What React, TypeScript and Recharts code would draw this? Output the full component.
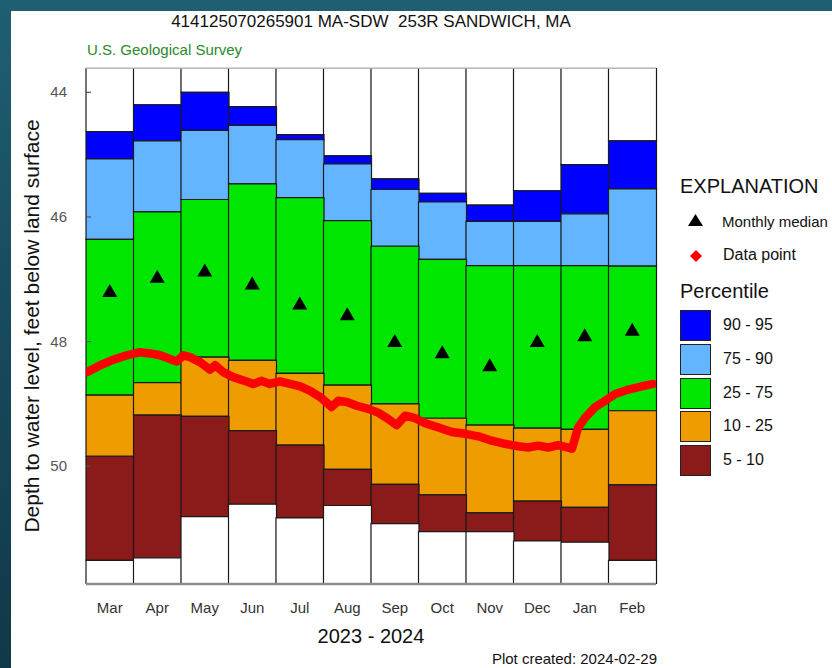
import React from "react";
import { Bar, ComposedChart, Line, ReferenceLine, XAxis, YAxis } from "recharts";

const months = ["Mar", "Apr", "May", "Jun", "Jul", "Aug", "Sep", "Oct", "Nov", "Dec", "Jan", "Feb"];

// percentile levels, depth to water in feet below land surface
const p95 = [44.63, 44.2, 44.0, 44.23, 44.68, 45.02, 45.39, 45.62, 45.81, 45.58, 45.16, 44.78];
const p90 = [45.07, 44.78, 44.61, 44.53, 44.76, 45.15, 45.56, 45.76, 46.07, 46.07, 45.95, 45.55];
const p75 = [46.36, 45.92, 45.72, 45.47, 45.69, 46.06, 46.47, 46.68, 46.78, 46.78, 46.78, 46.79];
const p25 = [48.86, 48.66, 48.25, 48.3, 48.51, 48.7, 49.0, 49.23, 49.34, 49.39, 49.41, 49.11];
const p10 = [49.84, 49.18, 49.2, 49.43, 49.66, 50.05, 50.29, 50.46, 50.75, 50.56, 50.66, 50.3];
const p05 = [51.51, 51.47, 50.81, 50.61, 50.83, 50.63, 50.92, 51.05, 51.05, 51.2, 51.22, 51.51];
const medians = [47.19, 46.96, 46.86, 47.07, 47.39, 47.56, 47.99, 48.17, 48.38, 47.99, 47.9, 47.81];

// observed record, months since 1 Mar 2023
const obsT = [
  0.02, 0.3, 0.58, 0.86, 1.14, 1.35, 1.56, 1.77, 1.91, 2.05, 2.19, 2.4, 2.61, 2.72, 2.89, 3.1, 3.38, 3.52, 3.7,
  3.87, 4.08, 4.3, 4.51, 4.72, 4.93, 5.17, 5.31, 5.49, 5.7, 5.94, 6.15, 6.36, 6.54, 6.72, 6.93, 7.14, 7.42, 7.7,
  7.98, 8.26, 8.54, 8.82, 9.1, 9.31, 9.52, 9.73, 9.94, 10.15, 10.23, 10.3, 10.36, 10.51, 10.72, 10.93, 11.14,
  11.42, 11.7, 11.94
];
const obsDepth = [
  48.49, 48.38, 48.29, 48.22, 48.17, 48.19, 48.22, 48.28, 48.32, 48.22, 48.25, 48.33, 48.45, 48.38, 48.49, 48.57,
  48.64, 48.68, 48.63, 48.68, 48.64, 48.68, 48.72, 48.79, 48.89, 49.05, 48.95, 48.97, 49.03, 49.08, 49.14, 49.24,
  49.34, 49.19, 49.23, 49.31, 49.38, 49.45, 49.48, 49.52, 49.59, 49.64, 49.68, 49.7, 49.67, 49.7, 49.66, 49.7,
  49.72, 49.54, 49.38, 49.22, 49.05, 48.95, 48.84, 48.77, 48.72, 48.68
];

const yTicks = [44, 46, 48, 50];
const yDomain: [number, number] = [43.61, 51.89];

const bands = months.map((month, i) => ({
  month,
  above: p95[i],
  b9095: p90[i] - p95[i],
  b7590: p75[i] - p90[i],
  b2575: p25[i] - p75[i],
  b1025: p10[i] - p25[i],
  b0510: p05[i] - p10[i],
  below: yDomain[1] - p05[i],
  median: medians[i]
}));

const obs = obsT.map((t, i) => ({ t, depth: obsDepth[i] }));

const FONT = '"Liberation Sans", Arial, sans-serif';

const legendRows = [
  { label: "90 - 95", color: "#0000ff" },
  { label: "75 - 90", color: "#63b5ff" },
  { label: "25 - 75", color: "#00e600" },
  { label: "10 - 25", color: "#ee9c00" },
  { label: "5 - 10", color: "#8b1a1a" }
];

function DepthTick(props: any) {
  const { x, y, payload } = props;
  return (
    <g>
      <line x1={x + 19} x2={x + 24} y1={y} y2={y} stroke="#555" strokeWidth={1.2} />
      <text x={x} y={y} dy={5} textAnchor="end" fill="#555" fontSize={15} fontFamily={FONT}>
        {payload.value}
      </text>
    </g>
  );
}

function renderTriangle(props: any) {
  const { cx, cy, index } = props;
  if (cx == null || cy == null) return <g key={index} />;
  return <polygon key={index} points={`${cx - 7.5},${cy + 6} ${cx + 7.5},${cy + 6} ${cx},${cy - 7}`} fill="#000" />;
}

const barStroke = { stroke: "#1a1a1a", strokeWidth: 1.2 };

export default function App() {
  return (
    <div
      style={{
        position: "absolute",
        left: 0,
        top: 0,
        width: 832,
        height: 668,
        overflow: "hidden",
        background: "linear-gradient(180deg, #1f5f72 0%, #17495c 50%, #113848 100%)",
        fontFamily: FONT
      }}
    >
      <div style={{ position: "absolute", left: 11, top: 11, right: 0, bottom: 0, background: "#fff" }} />
      <div style={{ position: "absolute", left: 0, top: 0 }}>
        <ComposedChart
          width={832}
          height={668}
          data={bands}
          margin={{ top: 68, right: 176, bottom: 44, left: 26 }}
          barCategoryGap={0}
          barGap={0}
        >
          <XAxis
            xAxisId="cat"
            dataKey="month"
            interval={0}
            tickLine={false}
            axisLine={false}
            tickSize={0}
            tickMargin={18}
            height={40}
            tick={{ fill: "#333", fontSize: 15, fontFamily: FONT }}
          />
          <XAxis xAxisId="t" type="number" dataKey="t" domain={[0, 12]} hide allowDataOverflow />
          <YAxis
            reversed
            domain={yDomain}
            allowDataOverflow
            ticks={yTicks}
            interval={0}
            width={60}
            tickSize={0}
            tickMargin={19}
            axisLine={false}
            tickLine={false}
            tick={<DepthTick />}
          />
          <Bar xAxisId="cat" dataKey="above" stackId="p" fill="#ffffff" {...barStroke} isAnimationActive={false} />
          <Bar xAxisId="cat" dataKey="b9095" stackId="p" fill={legendRows[0].color} {...barStroke} isAnimationActive={false} />
          <Bar xAxisId="cat" dataKey="b7590" stackId="p" fill={legendRows[1].color} {...barStroke} isAnimationActive={false} />
          <Bar xAxisId="cat" dataKey="b2575" stackId="p" fill={legendRows[2].color} {...barStroke} isAnimationActive={false} />
          <Bar xAxisId="cat" dataKey="b1025" stackId="p" fill={legendRows[3].color} {...barStroke} isAnimationActive={false} />
          <Bar xAxisId="cat" dataKey="b0510" stackId="p" fill={legendRows[4].color} {...barStroke} isAnimationActive={false} />
          <Bar xAxisId="cat" dataKey="below" stackId="p" fill="#ffffff" {...barStroke} isAnimationActive={false} />
          <ReferenceLine xAxisId="cat" y={yDomain[0]} stroke="#c8c8c8" strokeWidth={1.5} />
          <ReferenceLine xAxisId="cat" y={yDomain[1]} stroke="#8c8c8c" strokeWidth={2.5} />
          <Line
            xAxisId="t"
            data={obs}
            dataKey="depth"
            type="linear"
            stroke="#ff0000"
            strokeWidth={8.5}
            strokeLinejoin="round"
            strokeLinecap="round"
            dot={false}
            activeDot={false}
            isAnimationActive={false}
          />
          <Line
            xAxisId="cat"
            dataKey="median"
            stroke="none"
            dot={renderTriangle}
            activeDot={false}
            isAnimationActive={false}
          />
        </ComposedChart>
      </div>

      <div style={{ position: "absolute", left: 0, width: 742, top: 12, textAlign: "center", fontSize: 17, color: "#111" }}>
        414125070265901 MA-SDW&nbsp;&nbsp;253R SANDWICH, MA
      </div>
      <div style={{ position: "absolute", left: 87, top: 41, fontSize: 15, color: "#2a8a2a" }}>U.S. Geological Survey</div>
      <div
        style={{
          position: "absolute",
          left: 32,
          top: 326,
          transform: "translate(-50%, -50%) rotate(-90deg)",
          whiteSpace: "nowrap",
          fontSize: 21,
          color: "#111"
        }}
      >
        Depth to water level, feet below land surface
      </div>
      <div style={{ position: "absolute", left: 86, width: 570, top: 625, textAlign: "center", fontSize: 20, color: "#111" }}>
        2023 - 2024
      </div>
      <div style={{ position: "absolute", right: 175, top: 650, fontSize: 15, color: "#111" }}>Plot created: 2024-02-29</div>

      <div style={{ position: "absolute", left: 680, top: 175, fontSize: 20, color: "#111", whiteSpace: "nowrap" }}>EXPLANATION</div>
      <svg style={{ position: "absolute", left: 686, top: 212 }} width={20} height={16}>
        <polygon points="2,14 17,14 9.5,2" fill="#000" />
      </svg>
      <div style={{ position: "absolute", left: 722, top: 213, fontSize: 15, color: "#111", whiteSpace: "nowrap" }}>Monthly median</div>
      <svg style={{ position: "absolute", left: 688, top: 248 }} width={16} height={16}>
        <polygon points="8,2 14,8 8,14 2,8" fill="#ff0000" />
      </svg>
      <div style={{ position: "absolute", left: 723, top: 246, fontSize: 16, color: "#111" }}>Data point</div>
      <div style={{ position: "absolute", left: 680, top: 280, fontSize: 20, color: "#111" }}>Percentile</div>
      {legendRows.map((row, i) => (
        <div key={row.label}>
          <div
            style={{
              position: "absolute",
              left: 680,
              top: 310 + i * 33.8,
              width: 29,
              height: 29,
              background: row.color,
              border: "1.5px solid #222"
            }}
          />
          <div style={{ position: "absolute", left: 723, top: 316 + i * 33.8, fontSize: 16, color: "#111" }}>{row.label}</div>
        </div>
      ))}
    </div>
  );
}
